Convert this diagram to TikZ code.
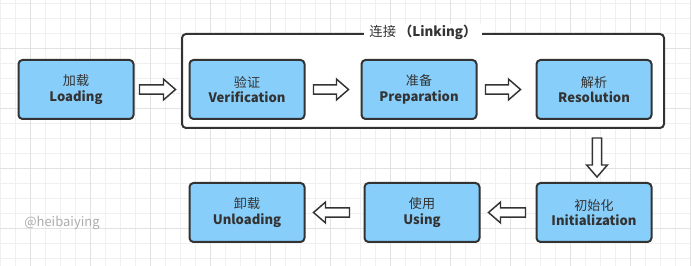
\documentclass[tikz,border=0pt]{standalone}
\usepackage{fontspec}
\setmainfont{Noto Sans CJK SC}
\usetikzlibrary{calc}
\definecolor{boxblue}{HTML}{88CEFA}
\definecolor{edge}{HTML}{333333}
\definecolor{gridminor}{HTML}{F0F0F0}
\definecolor{gridmajor}{HTML}{E2E2E2}
\tikzset{
  stage/.style={draw=edge, fill=boxblue, line width=1.5pt, rounded corners=3pt,
    minimum width=86.25pt, minimum height=44.25pt, inner sep=0pt, align=center,
    text=edge, font=\fontsize{9.8pt}{11.8pt}\selectfont},
  frame/.style={draw=edge, fill=white, line width=1.5pt, rounded corners=3pt,
    minimum width=361.5pt, minimum height=70.5pt, inner sep=0pt},
  fatarrowstyle/.style={draw=edge, fill=white, line width=1.1pt, line join=miter},
}
\newcommand\fatarrow[4]{%
  \draw[fatarrowstyle] let \p1=(#1), \p2=(#2),
    \n1={atan2(\y2-\y1,\x2-\x1)}, \n2={veclen(\x2-\x1,\y2-\y1)} in
    {[shift={(\p1)}, rotate=\n1]
      ({#3*0.75pt},-3.4pt) -- ({\n2*1pt-#4*0.75pt-9pt},-3.4pt)
      -- ({\n2*1pt-#4*0.75pt-9pt},-7.8pt) -- ({\n2*1pt-#4*0.75pt},0pt)
      -- ({\n2*1pt-#4*0.75pt-9pt},7.8pt) -- ({\n2*1pt-#4*0.75pt-9pt},3.4pt)
      -- ({#3*0.75pt},3.4pt) -- cycle};
}
\begin{document}
\begin{tikzpicture}[x=0.75pt,y=-0.75pt]
\useasboundingbox (0,0) rectangle (691,266);
\fill[white] (0,0) rectangle (691,266);
% grid
\foreach \gx in {0.5,15.5,...,691}{\draw[gridminor, line width=0.75pt] (\gx,0) -- (\gx,266);}
\foreach \gy in {3.5,18.5,...,266}{\draw[gridminor, line width=0.75pt] (0,\gy) -- (691,\gy);}
\foreach \gx in {30.5,90.5,...,691}{\draw[gridmajor, line width=0.75pt] (\gx,0) -- (\gx,266);}
\foreach \gy in {48.5,108.5,...,266}{\draw[gridmajor, line width=0.75pt] (0,\gy) -- (691,\gy);}

% linking frame
\node[frame] (link) at (423,81) {};
\node[fill=white, inner xsep=4pt, inner ysep=1pt, text=edge,
      font=\fontsize{10pt}{12pt}\selectfont] (linklabel) at (423,32.5)
      {连接 \textbf{（Linking）}};

% stages
\node[stage] (load) at (76,89.5)  {加载\\\textbf{Loading}};
\node[stage] (ver)  at (247,89.5) {验证\\\textbf{Verification}};
\node[stage] (prep) at (419,89.5) {准备\\\textbf{Preparation}};
\node[stage] (res)  at (594,89.5) {解析\\\textbf{Resolution}};
\node[stage] (init) at (594,212.5) {初始化\\\textbf{Initialization}};
\node[stage] (use)  at (422,212.5) {使用\\\textbf{Using}};
\node[stage] (unl)  at (247,212.5) {卸载\\\textbf{Unloading}};

% watermark
\node[text=black!32, font=\fontsize{9.75pt}{12pt}\selectfont, inner sep=0pt] (wm) at (62,222.5) {@heibaiying};

% arrows
\fatarrow{load.east}{ver.west}{5}{13}
\fatarrow{ver.east}{prep.west}{8}{12}
\fatarrow{prep.east}{res.west}{8}{15}
\coordinate (dtop) at ($(link.south -| init.north)+(3,0)$);
\coordinate (dbot) at ($(init.north)+(3,0)$);
\fatarrow{dtop}{dbot}{9}{5}
\fatarrow{init.west}{use.east}{10}{8}
\fatarrow{use.west}{unl.east}{14}{8}
\end{tikzpicture}
\end{document}
